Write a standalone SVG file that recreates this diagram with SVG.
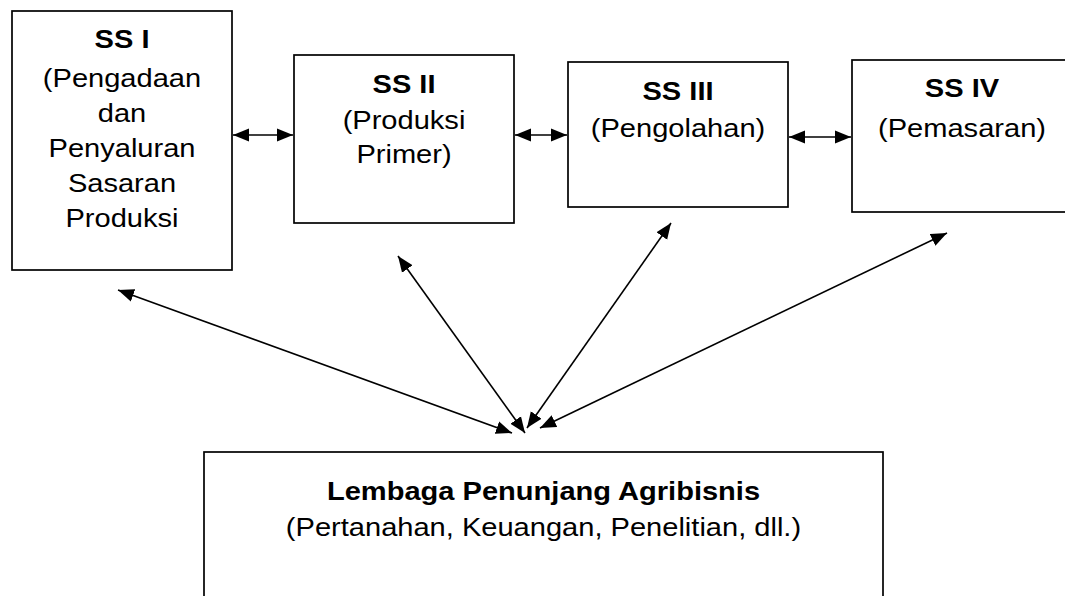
<svg xmlns="http://www.w3.org/2000/svg" width="1065" height="596" viewBox="0 0 1065 596">
<style>
.box{fill:#fff;stroke:#000;stroke-width:1.7}
.t{font-family:"Liberation Sans",Arial,sans-serif;font-size:25.5px;text-anchor:middle;fill:#000}
.b{font-weight:bold}
.c{stroke:#000;stroke-width:1.6;fill:none;marker-start:url(#ah);marker-end:url(#ah)}
</style>
<defs>
<marker id="ah" markerUnits="userSpaceOnUse" markerWidth="17" markerHeight="14" refX="16" refY="7" orient="auto-start-reverse" viewBox="0 0 17 14">
<path d="M0,0.5 L16,7 L0,13.5 z" fill="#000"/>
</marker>
</defs>
<rect width="1065" height="596" fill="#fff"/>
<g id="ss1">
<rect class="box" x="12" y="11" width="220" height="259"/>
<g transform="translate(122,0) scale(1.14,1)">
<text class="t b" x="0" y="48">SS I</text>
<text class="t" x="0" y="87">(Pengadaan</text>
<text class="t" x="0" y="122">dan</text>
<text class="t" x="0" y="157">Penyaluran</text>
<text class="t" x="0" y="192">Sasaran</text>
<text class="t" x="0" y="227">Produksi</text>
</g>
</g>
<g id="ss2">
<rect class="box" x="294" y="55" width="220" height="168"/>
<g transform="translate(404,0) scale(1.14,1)">
<text class="t b" x="0" y="93">SS II</text>
<text class="t" x="0" y="129">(Produksi</text>
<text class="t" x="0" y="163">Primer)</text>
</g>
</g>
<g id="ss3">
<rect class="box" x="568" y="62" width="220" height="145"/>
<g transform="translate(678,0) scale(1.14,1)">
<text class="t b" x="0" y="100">SS III</text>
<text class="t" x="0" y="137">(Pengolahan)</text>
</g>
</g>
<g id="ss4">
<rect class="box" x="852" y="60" width="222" height="152"/>
<g transform="translate(962,0) scale(1.14,1)">
<text class="t b" x="0" y="97">SS IV</text>
<text class="t" x="0" y="137">(Pemasaran)</text>
</g>
</g>
<g id="lembaga">
<rect class="box" x="204" y="452" width="679" height="160"/>
<g transform="translate(543.5,0) scale(1.14,1)">
<text class="t b" x="0" y="500">Lembaga Penunjang Agribisnis</text>
<text class="t" x="0" y="536">(Pertanahan, Keuangan, Penelitian, dll.)</text>
</g>
</g>
<g id="connectors">
<line class="c" x1="233" y1="135" x2="293" y2="135"/>
<line class="c" x1="515" y1="135" x2="567" y2="135"/>
<line class="c" x1="789" y1="137" x2="851" y2="137"/>
<line class="c" x1="118" y1="290" x2="512" y2="433"/>
<line class="c" x1="398" y1="256" x2="525" y2="433"/>
<line class="c" x1="671" y1="223" x2="527" y2="428"/>
<line class="c" x1="947" y1="233" x2="540" y2="428"/>
</g>
</svg>
